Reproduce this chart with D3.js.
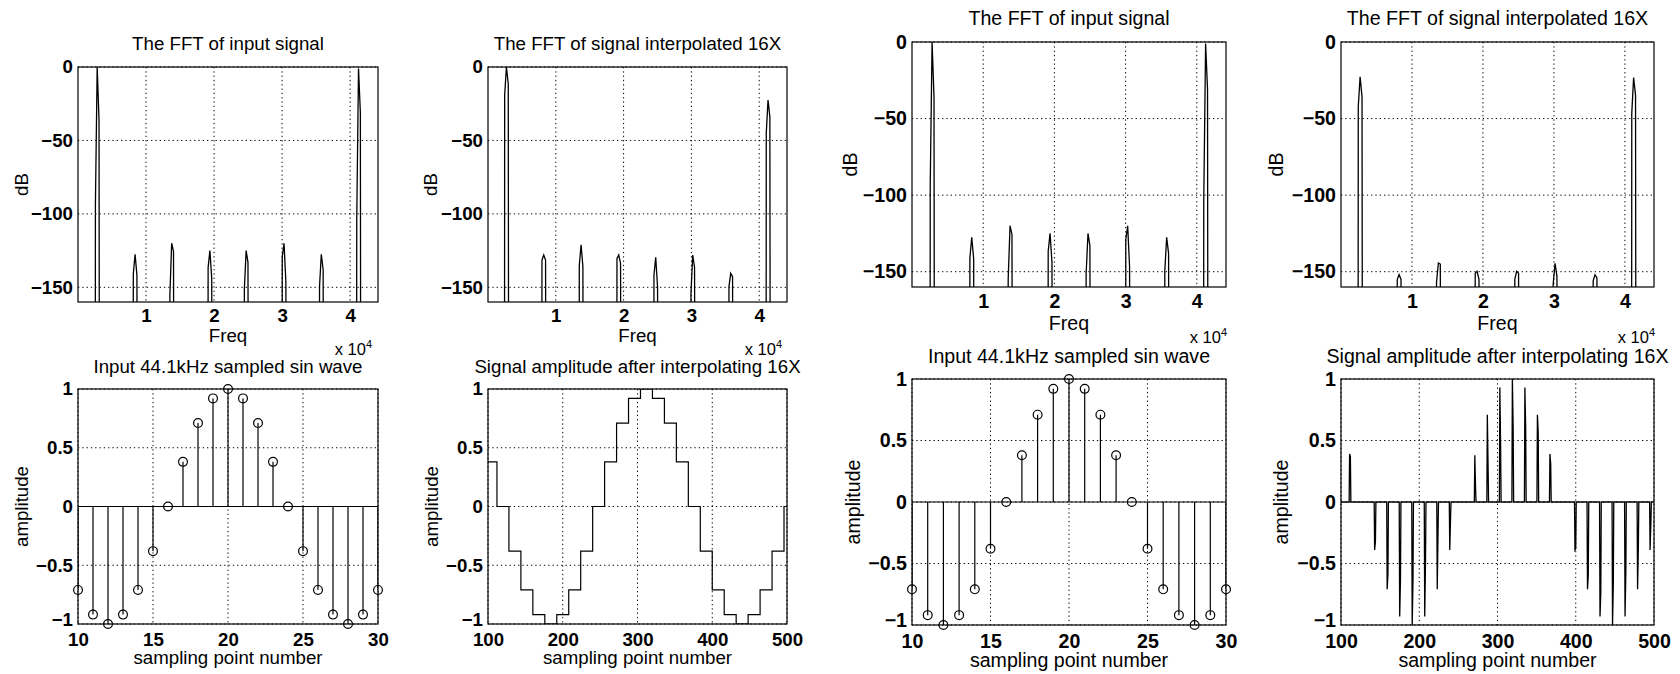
<!DOCTYPE html>
<html>
<head>
<meta charset="utf-8">
<script src="https://cdn.jsdelivr.net/npm/d3@7"></script>
<style>
  body { margin: 0; background: #fff; }
  svg text { font-family: "Liberation Sans", Arial, Helvetica, sans-serif; fill: #000; }
</style>
</head>
<body>
<svg id="fig" width="1680" height="674"></svg>
<script>
// ---- data ----
// FFT of the input signal: spike centre (Hz), left shoulder, peak, right shoulder (dB)
var fftInFreq  = [2860, 8431, 13810, 19428, 24756, 30328, 35806, 41276];
var fftInLeft  = [-94, -141, -154.7, -136.6, -151.4, -129, -149.5, -104];
var fftInPeak  = [0, -127.5, -120, -125, -125, -120, -127.5, -1];
var fftInRight = [-36, -141.5, -125.7, -143.9, -133, -146.6, -138, -31];

// FFT of the 16X interpolated signal (left copy)
var fftUpFreq  = [2758, 8260, 13766, 19322, 24779, 30236, 35841, 41342];
var fftUpLeft  = [-19, -131.4, -135.1, -130.3, -141.6, -154, -149.5, -45];
var fftUpPeak  = [0, -128, -121, -128, -129.6, -128, -140.5, -22.5];
var fftUpRight = [-11.6, -131.4, -135.8, -133.6, -150, -136.5, -142.8, -34];

// FFT of the 16X interpolated signal (right copy)
var fftUp2Freq  = [2732, 8225, 13760, 19211, 24789, 30197, 35831, 41268];
var fftUp2Left  = [-42.3, -155.1, -157, -151, -155, -158, -156, -46.6];
var fftUp2Peak  = [-22.8, -151.9, -144.3, -149.8, -149.8, -144.5, -152, -23.2];
var fftUp2Right = [-35.8, -155.1, -145, -155, -151, -153, -154, -34.7];

// input samples
var stemN   = [10, 11, 12, 13, 14, 15, 16, 17, 18, 19, 20, 21, 22, 23, 24, 25, 26, 27, 28, 29, 30];
var stemVal = [-0.71, -0.92, -1, -0.92, -0.71, -0.38, 0, 0.38, 0.71, 0.92, 1, 0.92, 0.71, 0.38, 0,
               -0.38, -0.71, -0.92, -1, -0.92, -0.71];

// held (staircase) interpolation
var stairStart = [100, 112, 128, 144, 160, 176, 192, 208, 224, 240, 256, 272, 288, 304, 320, 336,
                  352, 368, 384, 400, 416, 432, 448, 464, 480, 496];
var stairVal   = [0.38, 0, -0.38, -0.71, -0.92, -1, -0.92, -0.71, -0.38, 0, 0.38, 0.71, 0.92, 1, 0.92, 0.71,
                  0.38, 0, -0.38, -0.71, -0.92, -1, -0.92, -0.71, -0.38, 0];

// zero-stuffed interpolation: pulse position and its two samples
var pulseN     = [111, 143, 159, 175, 191, 207, 223, 239, 271, 287, 303, 319, 335, 351, 367,
                  399, 415, 431, 447, 463, 479, 495];
var pulseThin  = [0.39, -0.39, -0.71, -0.93, -1.0, -0.93, -0.71, -0.39, 0.38, 0.71, 0.93, 1.0, 0.93, 0.71, 0.39,
                  -0.39, -0.71, -0.93, -1.0, -0.93, -0.71, -0.39];
var pulseThick = [0.37, -0.32, -0.58, -0.63, -0.63, -0.48, -0.24, -0.13, 0.10, 0.27, 0.44, 0.61, 0.61, 0.57, 0.31,
                  -0.38, -0.60, -0.74, -0.67, -0.58, -0.37, -0.17];

// ticks
var fftTicksX    = [10000, 20000, 30000, 40000];
var fftTicksY    = [-150, -100, -50, 0];
var ampTicksY    = [-1, -0.5, 0, 0.5, 1];
var stemTicksX   = [10, 15, 20, 25, 30];
var interpTicksX = [100, 200, 300, 400, 500];

var FLOOR = -300; // below the axis, gets clipped

var svg = d3.select("#fig");

var panels = [
  {id: "p1", type: "fft", box: [78, 67, 378, 302], fs: 18.7, title: "The FFT of input signal", titleY: 50,
   ylabX: 27.5, xlabY: 342, expX: 372, expY: 355, s: [fftInFreq, fftInLeft, fftInPeak, fftInRight]},
  {id: "p2", type: "fft", box: [488, 67, 787, 302], fs: 18.7, title: "The FFT of signal interpolated 16X", titleY: 50,
   ylabX: 436.7, xlabY: 342, expX: 782, expY: 355, s: [fftUpFreq, fftUpLeft, fftUpPeak, fftUpRight]},
  {id: "p3", type: "fft", box: [912, 42, 1226, 287], fs: 19.6, title: "The FFT of input signal", titleY: 25,
   ylabX: 856.7, xlabY: 330, expX: 1227, expY: 343, s: [fftInFreq, fftInLeft, fftInPeak, fftInRight]},
  {id: "p4", type: "fft", box: [1341, 42, 1654, 287], fs: 19.6, title: "The FFT of signal interpolated 16X", titleY: 25,
   ylabX: 1283.3, xlabY: 330, expX: 1655, expY: 343, s: [fftUp2Freq, fftUp2Left, fftUp2Peak, fftUp2Right]},
  {id: "p5", type: "stem", box: [78, 389, 378, 624], fs: 18.7, title: "Input 44.1kHz sampled sin wave", titleY: 373,
   ylabX: 28, xlabY: 664},
  {id: "p6", type: "stair", box: [488, 389, 787, 624], fs: 18.7, title: "Signal amplitude after interpolating 16X", titleY: 373,
   ylabX: 438, xlabY: 664},
  {id: "p7", type: "stem", box: [912, 379, 1226, 625], fs: 19.6, title: "Input 44.1kHz sampled sin wave", titleY: 363,
   ylabX: 859.5, xlabY: 667},
  {id: "p8", type: "pulse", box: [1341, 379, 1654, 625], fs: 19.6, title: "Signal amplitude after interpolating 16X", titleY: 363,
   ylabX: 1288, xlabY: 667}
];

panels.forEach(drawPanel);

function drawPanel(p) {
  var x0 = p.box[0], y0 = p.box[1], x1 = p.box[2], y1 = p.box[3];
  var isFft = p.type == "fft";
  var x = d3.scaleLinear()
      .domain(isFft ? [0, 44100] : (p.type == "stem" ? [10, 30] : [100, 500]))
      .range([x0, x1]);
  var y = d3.scaleLinear()
      .domain(isFft ? [-160, 0] : [-1, 1])
      .range([y1, y0]);
  var xt = isFft ? fftTicksX : (p.type == "stem" ? stemTicksX : interpTicksX);
  var yt = isFft ? fftTicksY : ampTicksY;

  var g = svg.append("g").attr("class", p.id);

  g.append("clipPath").attr("id", "clip-" + p.id)
    .append("rect").attr("x", x0).attr("y", y0).attr("width", x1 - x0).attr("height", y1 - y0);

  // dotted grid
  g.append("g").selectAll("line").data(xt).enter().append("line")
      .attr("x1", function(d) { return x(d); }).attr("x2", function(d) { return x(d); })
      .attr("y1", y0).attr("y2", y1)
      .attr("stroke", "#000").attr("stroke-width", 1).attr("stroke-dasharray", "1.3,3");
  g.append("g").selectAll("line").data(yt).enter().append("line")
      .attr("y1", function(d) { return y(d); }).attr("y2", function(d) { return y(d); })
      .attr("x1", x0).attr("x2", x1)
      .attr("stroke", "#000").attr("stroke-width", 1).attr("stroke-dasharray", "1.3,3");

  var plot = g.append("g").attr("clip-path", "url(#clip-" + p.id + ")");
  var line = d3.line().x(function(d) { return x(d[0]); }).y(function(d) { return y(d[1]); });

  if (isFft) {
    var f = p.s[0], lft = p.s[1], pk = p.s[2], rgt = p.s[3];
    var pts = [[0, FLOOR]];
    f.forEach(function(v, i) {
      pts.push([v - 330, FLOOR], [v - 300, lft[i]], [v - 40, pk[i]], [v + 230, rgt[i]], [v + 300, FLOOR]);
    });
    pts.push([44100, FLOOR]);
    plot.append("path").attr("d", line(pts))
      .attr("fill", "none").attr("stroke", "#000").attr("stroke-width", 1.3);
  }

  if (p.type == "stem") {
    plot.append("line").attr("x1", x0).attr("x2", x1).attr("y1", y(0)).attr("y2", y(0))
      .attr("stroke", "#000").attr("stroke-width", 1.2);
    plot.selectAll(".stem").data(stemN).enter().append("line")
      .attr("x1", function(d) { return x(d); }).attr("x2", function(d) { return x(d); })
      .attr("y1", y(0)).attr("y2", function(d, i) { return y(stemVal[i]); })
      .attr("stroke", "#000").attr("stroke-width", 1.2);
    g.selectAll(".mk").data(stemN).enter().append("circle")
      .attr("cx", function(d) { return x(d); })
      .attr("cy", function(d, i) { return y(stemVal[i]); })
      .attr("r", 4.4)
      .attr("fill", "none").attr("stroke", "#000").attr("stroke-width", 1.2);
  }

  if (p.type == "stair") {
    var sp = stairStart.map(function(d, i) { return [d, stairVal[i]]; });
    sp.push([500, stairVal[stairVal.length - 1]]);
    plot.append("path").attr("d", line.curve(d3.curveStepAfter)(sp))
      .attr("fill", "none").attr("stroke", "#000").attr("stroke-width", 1.2);
    line.curve(d3.curveLinear);
  }

  if (p.type == "pulse") {
    var pp = [[100, 0]];
    pulseN.forEach(function(n, i) {
      pp.push([n - 0.6, 0], [n, pulseThin[i]], [n + 1, pulseThick[i]], [n + 1.6, 0]);
    });
    pp.push([500, 0]);
    plot.append("path").attr("d", line(pp))
      .attr("fill", "none").attr("stroke", "#000").attr("stroke-width", 1.3);
  }

  // box
  g.append("rect").attr("x", x0).attr("y", y0).attr("width", x1 - x0).attr("height", y1 - y0)
    .attr("fill", "none").attr("stroke", "#000").attr("stroke-width", 1.2);

  // tick labels
  var xAxis = d3.axisBottom(x).tickValues(xt).tickSize(0).tickPadding(isFft ? 7 : 9)
      .tickFormat(isFft ? function(d) { return d / 1e4; } : d3.format("~g"));
  var gx = g.append("g").attr("transform", "translate(0," + y1 + ")").call(xAxis);
  var yAxis = d3.axisLeft(y).tickValues(yt).tickSize(0).tickPadding(5).tickFormat(d3.format("~g"));
  var gy = g.append("g").attr("transform", "translate(" + x0 + ",0)").call(yAxis);
  [gx, gy].forEach(function(a) {
    a.select(".domain").remove();
    a.selectAll("text").attr("font-size", p.fs).attr("font-weight", "bold")
      .attr("font-family", "'Liberation Sans', Arial, sans-serif").attr("fill", "#000");
  });
  // the -1 label sits a touch higher, as in the original
  if (!isFft) gy.selectAll("text").filter(function(d) { return d == -1; }).attr("dy", "0.1em");

  // title and labels
  var cx = (x0 + x1) / 2;
  g.append("text").attr("x", cx).attr("y", p.titleY).attr("text-anchor", "middle")
    .attr("font-size", p.fs).text(p.title);
  g.append("text").attr("x", cx).attr("y", p.xlabY).attr("text-anchor", "middle")
    .attr("font-size", p.fs).text(isFft ? "Freq" : "sampling point number");
  g.append("text")
    .attr("transform", "translate(" + p.ylabX + "," + ((y0 + y1) / 2) + ") rotate(-90)")
    .attr("text-anchor", "middle").attr("font-size", p.fs)
    .text(isFft ? "dB" : "amplitude");

  if (isFft) {
    var ex = g.append("text").attr("x", p.expX).attr("y", p.expY).attr("text-anchor", "end")
      .attr("font-size", 16.5);
    ex.append("tspan").text("x 10");
    ex.append("tspan").attr("font-size", 11).attr("dy", -7).text("4");
  }
}
</script>
</body>
</html>
